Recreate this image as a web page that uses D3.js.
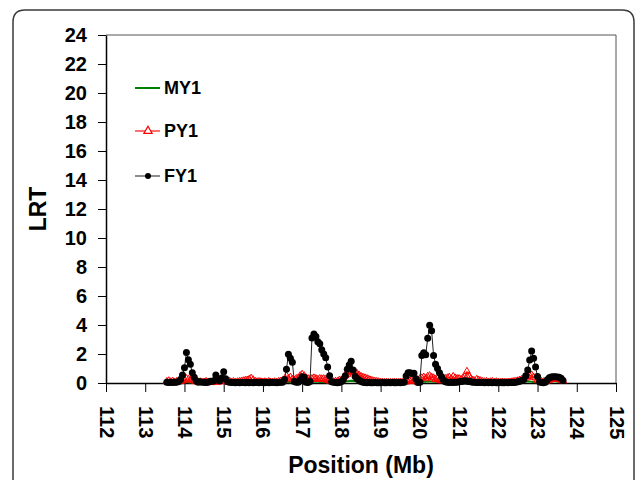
<!DOCTYPE html>
<html><head><meta charset="utf-8">
<script src="https://cdn.jsdelivr.net/npm/d3@7"></script>
<style>
html,body{margin:0;padding:0;background:#fff;}
svg{display:block;font-family:"Liberation Sans",Arial,sans-serif;font-weight:bold;}
</style></head>
<body><svg id="c" width="635" height="480"></svg>
<script>
const positions = [
113.55,113.6,113.65,113.7,113.75,113.8,113.85,113.9,113.95,
114,114.05,114.1,114.15,114.2,114.25,114.3,114.35,114.4,114.45,114.5,114.55,114.6,114.65,114.7,114.75,114.8,114.85,114.9,114.95,
115,115.05,115.1,115.15,115.2,115.25,115.3,115.35,115.4,115.45,115.5,115.55,115.6,115.65,115.7,115.75,115.8,115.85,115.9,115.95,
116,116.05,116.1,116.15,116.2,116.25,116.3,116.35,116.4,116.45,116.5,116.55,116.6,116.65,116.7,116.75,116.8,116.85,116.9,116.95,
117,117.05,117.1,117.15,117.2,117.25,117.3,117.35,117.4,117.45,117.5,117.55,117.6,117.65,117.7,117.75,117.8,117.85,117.9,117.95,
118,118.05,118.1,118.15,118.2,118.25,118.3,118.35,118.4,118.45,118.5,118.55,118.6,118.65,118.7,118.75,118.8,118.85,118.9,118.95,
119,119.05,119.1,119.15,119.2,119.25,119.3,119.35,119.4,119.45,119.5,119.55,119.6,119.65,119.7,119.75,119.8,119.85,119.9,119.95,
120,120.05,120.1,120.15,120.2,120.25,120.3,120.35,120.4,120.45,120.5,120.55,120.6,120.65,120.7,120.75,120.8,120.85,120.9,120.95,
121,121.05,121.1,121.15,121.2,121.25,121.3,121.35,121.4,121.45,121.5,121.55,121.6,121.65,121.7,121.75,121.8,121.85,121.9,121.95,
122,122.05,122.1,122.15,122.2,122.25,122.3,122.35,122.4,122.45,122.5,122.55,122.6,122.65,122.7,122.75,122.8,122.85,122.9,122.95,
123,123.05,123.1,123.15,123.2,123.25,123.3,123.35,123.4,123.45,123.5,123.55,123.6,123.65
];
const MY1 = [
0.02,0.03,0.02,0.04,0.03,0.02,0.03,0.05,0.04,
0.06,0.08,0.05,0.04,0.03,0.02,0.03,0.02,0.04,0.03,0.02,0.03,0.02,0.03,0.04,0.03,0.05,0.04,0.03,0.04,
0.05,0.04,0.03,0.02,0.03,0.02,0.03,0.02,0.02,0.03,0.02,0.03,0.04,0.05,0.04,0.03,0.02,0.03,0.02,0.03,
0.02,0.03,0.02,0.03,0.02,0.02,0.03,0.02,0.03,0.04,0.05,0.06,0.08,0.07,0.06,0.05,0.06,0.07,0.08,0.1,
0.12,0.1,0.08,0.07,0.06,0.08,0.1,0.09,0.08,0.07,0.08,0.06,0.05,0.04,0.03,0.03,0.02,0.03,0.04,0.05,
0.06,0.08,0.1,0.12,0.14,0.15,0.14,0.12,0.1,0.08,0.07,0.06,0.05,0.04,0.03,0.03,0.02,0.02,0.03,0.02,
0.02,0.03,0.02,0.02,0.03,0.02,0.02,0.03,0.02,0.03,0.02,0.03,0.04,0.05,0.06,0.05,0.04,0.05,0.04,0.05,
0.06,0.08,0.1,0.08,0.1,0.12,0.1,0.09,0.08,0.07,0.08,0.1,0.12,0.1,0.08,0.07,0.06,0.07,0.06,0.05,
0.06,0.05,0.06,0.08,0.1,0.08,0.06,0.05,0.04,0.04,0.03,0.03,0.02,0.03,0.02,0.02,0.03,0.02,0.02,0.03,
0.02,0.03,0.02,0.02,0.03,0.02,0.03,0.02,0.03,0.03,0.04,0.05,0.06,0.08,0.1,0.12,0.1,0.08,0.07,0.06,
0.05,0.04,0.04,0.05,0.06,0.08,0.1,0.12,0.13,0.12,0.1,0.08,0.06,0.05
];
const PY1 = [
0.1,0.15,0.08,0.12,0.05,0.1,0.08,0.12,0.15,
0.2,0.3,0.25,0.2,0.28,0.15,0.1,0.05,0.08,0.04,0.06,0.1,0.05,0.08,0.03,0.1,0.15,0.05,0.12,0.2,
0.15,0.1,0.08,0.12,0.06,0.1,0.05,0.08,0.1,0.12,0.15,0.18,0.2,0.25,0.33,0.22,0.12,0.08,0.1,0.08,
0.06,0.08,0.05,0.1,0.06,0.05,0.08,0.06,0.1,0.12,0.15,0.2,0.5,0.3,0.4,0.25,0.2,0.3,0.35,0.5,
0.6,0.5,0.35,0.3,0.25,0.3,0.35,0.3,0.25,0.3,0.28,0.3,0.25,0.2,0.15,0.1,0.08,0.12,0.1,0.2,
0.2,0.35,0.5,0.6,0.7,0.75,0.8,0.75,0.65,0.55,0.45,0.4,0.35,0.3,0.25,0.2,0.15,0.12,0.1,0.08,
0.06,0.05,0.04,0.05,0.03,0.04,0.03,0.05,0.04,0.03,0.05,0.04,0.06,0.08,0.1,0.15,0.2,0.15,0.1,0.05,
0.3,0.35,0.4,0.3,0.45,0.5,0.4,0.35,0.25,0.3,0.2,0.15,0.2,0.3,0.35,0.4,0.3,0.45,0.35,0.3,
0.3,0.25,0.35,0.45,0.8,0.5,0.3,0.2,0.15,0.25,0.2,0.15,0.1,0.08,0.1,0.06,0.08,0.1,0.05,0.08,
0.05,0.04,0.06,0.05,0.04,0.05,0.06,0.08,0.1,0.12,0.15,0.2,0.25,0.3,0.35,0.45,0.5,0.55,0.4,0.35,
0.2,0.15,0.1,0.08,0.1,0.15,0.2,0.25,0.3,0.28,0.3,0.25,0.2,0.15
];
const FY1 = [
0.05,0.04,0.05,0.03,0.05,0.06,0.1,0.25,0.55,
1.05,2.1,1.6,1.3,0.7,0.4,0.15,0.06,0.08,0.05,0.06,0.04,0.06,0.1,0.12,0.15,0.55,0.2,0.15,0.35,
0.78,0.3,0.08,0.05,0.03,0.04,0.02,0.03,0.02,0.03,0.04,0.02,0.03,0.02,0.03,0.02,0.04,0.03,0.02,0.03,
0.03,0.02,0.03,0.02,0.03,0.04,0.03,0.02,0.04,0.05,0.06,0.25,0.94,1.98,1.7,1.43,0.1,0.05,0.06,0.2,
0.43,0.4,0.06,0.04,0.1,3.1,3.38,3.2,2.85,2.7,2.3,2.0,1.75,1.1,0.5,0.08,0.05,0.03,0.02,0.03,
0.1,0.25,0.5,0.94,1.25,1.5,0.9,0.45,0.3,0.2,0.1,0.05,0.03,0.02,0.03,0.02,0.02,0.03,0.02,0.02,
0.02,0.03,0.02,0.02,0.03,0.02,0.03,0.02,0.02,0.03,0.02,0.03,0.05,0.48,0.71,0.7,0.65,0.67,0.3,0.03,
0.05,1.9,2.09,1.95,3.08,3.98,3.6,1.9,1.3,1.0,0.7,0.45,0.2,0.09,0.05,0.04,0.05,0.04,0.05,0.06,
0.08,0.1,0.12,0.15,0.12,0.1,0.08,0.06,0.05,0.04,0.03,0.04,0.03,0.02,0.03,0.02,0.03,0.02,0.03,0.02,
0.02,0.03,0.02,0.02,0.03,0.02,0.03,0.04,0.03,0.05,0.08,0.12,0.18,0.25,0.5,0.9,1.59,2.2,1.7,1.1,
0.45,0.08,0.03,0.02,0.06,0.22,0.36,0.42,0.43,0.43,0.42,0.4,0.32,0.18
];
const xTicks = [112,113,114,115,116,117,118,119,120,121,122,123,124,125];
const yTicks = [0,2,4,6,8,10,12,14,16,18,20,22,24];
const seriesNames = ["MY1","PY1","FY1"];

const svg = d3.select("#c");
const L=106, R=616, T=35, B=383;
const x = d3.scaleLinear().domain([112,125]).range([L,R]);
const y = d3.scaleLinear().domain([0,24]).range([B,T]);

// outer rounded frame
svg.append("path")
  .attr("d", `M13,490 L13,22 Q13,10 25,10 L622,10 Q634,10 634,22 L634,490`)
  .attr("fill","none").attr("stroke","#3a3a3a").attr("stroke-width",1.5);

// plot box top/right
svg.append("path").attr("d",`M${L},${T} L${R},${T} L${R},${B}`)
  .attr("fill","none").attr("stroke","#555").attr("stroke-width",1);

const yAxis = svg.append("g").attr("transform",`translate(${L},0)`)
  .call(d3.axisLeft(y).tickValues(yTicks).tickSize(8).tickSizeOuter(0).tickPadding(11).tickFormat(d3.format("d")));
yAxis.select(".domain").attr("stroke","#000").attr("stroke-width",1.5);
yAxis.selectAll(".tick line").attr("stroke","#000");
yAxis.selectAll(".tick text").attr("font-size",20).attr("font-weight","bold")
  .attr("font-family","'Liberation Sans',Arial,sans-serif").attr("fill","#000");

const xAxis = svg.append("g").attr("transform",`translate(0,${B})`)
  .call(d3.axisBottom(x).tickValues(xTicks).tickSize(9).tickSizeOuter(0).tickFormat(d3.format("d")));
xAxis.select(".domain").attr("stroke","#000").attr("stroke-width",1.5);
xAxis.selectAll(".tick line").attr("stroke","#000");
xAxis.selectAll(".tick text").attr("font-size",20).attr("font-weight","bold")
  .attr("font-family","'Liberation Sans',Arial,sans-serif").attr("fill","#000")
  .attr("transform","rotate(90)").attr("x",23).attr("y",0).attr("dy","0.35em")
  .attr("text-anchor","start");

// axis titles
svg.append("text").attr("x",(L+R)/2).attr("y",473).attr("text-anchor","middle")
  .attr("font-size",23).attr("font-weight","bold").text("Position (Mb)");
svg.append("text").attr("transform",`translate(46,${(T+B)/2}) rotate(-90)`)
  .attr("text-anchor","middle").attr("font-size",23).attr("font-weight","bold").text("LRT");

const idx = d3.range(positions.length);
const line = s => d3.line().x(i=>x(positions[i])).y(i=>y(s[i]));

// MY1
svg.append("path").attr("d", line(MY1)(idx)).attr("fill","none")
  .attr("stroke","#008000").attr("stroke-width",2);
// PY1
svg.append("path").attr("d", line(PY1)(idx)).attr("fill","none")
  .attr("stroke","#ff0000").attr("stroke-width",1);
const tri = d3.symbol().type(d3.symbolTriangle).size(22);
svg.append("g").selectAll("path").data(idx).join("path")
  .attr("d",tri).attr("transform",i=>`translate(${x(positions[i])},${y(PY1[i])})`)
  .attr("fill","none").attr("stroke","#ff0000").attr("stroke-width",1);
// FY1
svg.append("path").attr("d", line(FY1)(idx)).attr("fill","none")
  .attr("stroke","#222").attr("stroke-width",1);
svg.append("g").selectAll("circle").data(idx).join("circle")
  .attr("cx",i=>x(positions[i])).attr("cy",i=>y(FY1[i])).attr("r",3.5).attr("fill","#000");

// legend
const leg = svg.append("g");
const legY = [88,131,176];
const legColors = ["#008000","#ff4040","#666"];
seriesNames.forEach((n,k)=>{
  leg.append("line").attr("x1",135).attr("x2",160).attr("y1",legY[k]).attr("y2",legY[k])
    .attr("stroke",legColors[k]).attr("stroke-width",k===0?2:1.5);
  if(k===1) leg.append("path").attr("d",d3.symbol().type(d3.symbolTriangle).size(30)())
    .attr("transform",`translate(148,${legY[k]})`).attr("fill","#fff").attr("stroke","#ff0000").attr("stroke-width",1.2);
  if(k===2) leg.append("circle").attr("cx",148).attr("cy",legY[k]).attr("r",3).attr("fill","#000");
  leg.append("text").attr("x",164).attr("y",legY[k]).attr("dy","0.36em")
    .attr("font-size",18).attr("font-weight","bold").text(n);
});
</script></body></html>
